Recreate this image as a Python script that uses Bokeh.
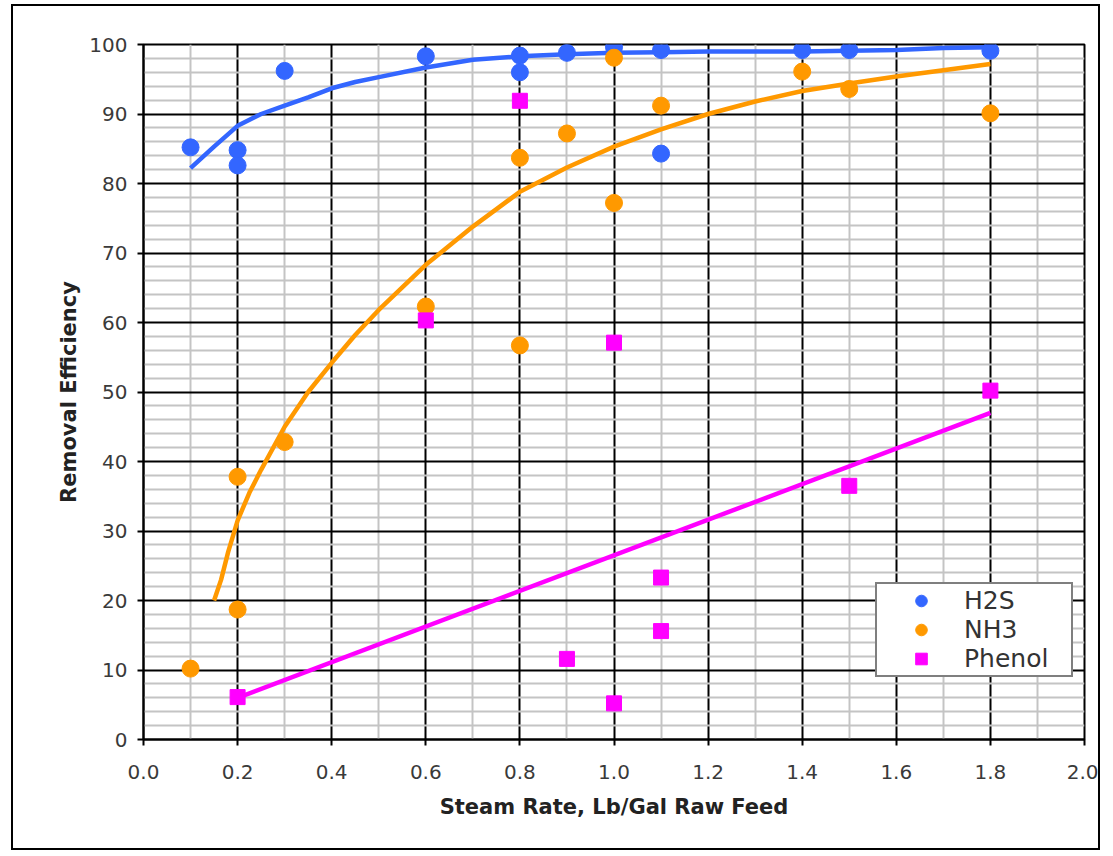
from bokeh.plotting import figure
from bokeh.models import FixedTicker, Legend, LegendItem, Range1d
from bokeh.embed import file_html
from bokeh.resources import INLINE

# ---------------- data ----------------
h2s_x = [0.1, 0.2, 0.2, 0.3, 0.6, 0.8, 0.8, 0.9, 1.0, 1.1, 1.1, 1.4, 1.5, 1.8]
h2s_y = [85.2, 84.8, 82.6, 96.2, 98.3, 98.4, 96.0, 98.8, 99.6, 99.2, 84.3, 99.2, 99.2, 99.1]

nh3_x = [0.1, 0.2, 0.2, 0.3, 0.6, 0.8, 0.8, 0.9, 1.0, 1.0, 1.1, 1.4, 1.5, 1.8]
nh3_y = [10.2, 37.8, 18.7, 42.8, 62.3, 83.7, 56.7, 87.2, 98.1, 77.2, 91.2, 96.1, 93.6, 90.1]

phenol_x = [0.2, 0.6, 0.8, 0.9, 1.0, 1.0, 1.1, 1.1, 1.5, 1.8]
phenol_y = [6.1, 60.3, 91.9, 11.6, 57.1, 5.2, 23.3, 15.6, 36.5, 50.2]

h2s_fit_x = [0.1, 0.15, 0.2, 0.25, 0.3, 0.35, 0.4, 0.45, 0.5, 0.6, 0.7, 0.8, 0.9,
             1.0, 1.1, 1.2, 1.3, 1.4, 1.5, 1.6, 1.7, 1.8]
h2s_fit_y = [82.2, 85.3, 88.3, 90.0, 91.2, 92.4, 93.7, 94.6, 95.3, 96.7, 97.8, 98.3, 98.6,
             98.8, 98.9, 99.0, 99.0, 99.0, 99.1, 99.2, 99.5, 99.6]

nh3_fit_x = [0.15, 0.165, 0.18, 0.2, 0.225, 0.25, 0.3, 0.35, 0.4, 0.45, 0.5, 0.6, 0.7,
             0.8, 0.9, 1.0, 1.1, 1.2, 1.3, 1.4, 1.5, 1.6, 1.7, 1.8]
nh3_fit_y = [20.0, 23.0, 27.0, 31.5, 35.5, 38.8, 45.0, 50.0, 54.2, 58.2, 61.8, 68.3, 73.8,
             78.8, 82.3, 85.3, 87.8, 90.0, 91.8, 93.3, 94.4, 95.4, 96.3, 97.2]

phenol_fit_x = [0.2, 1.8]
phenol_fit_y = [6.0, 47.0]

x_ticks = [0.0, 0.2, 0.4, 0.6, 0.8, 1.0, 1.2, 1.4, 1.6, 1.8, 2.0]
x_tick_labels = ["0.0", "0.2", "0.4", "0.6", "0.8", "1.0", "1.2", "1.4", "1.6", "1.8", "2.0"]
x_minor = [0.1, 0.3, 0.5, 0.7, 0.9, 1.1, 1.3, 1.5, 1.7, 1.9]
y_ticks = [0, 10, 20, 30, 40, 50, 60, 70, 80, 90, 100]
y_minor = [v for v in range(0, 101, 2) if v % 10 != 0]

BLUE = "#3366FF"
ORANGE = "#FF9900"
MAGENTA = "#FF00FF"

p = figure(width=1089, height=846, x_range=Range1d(0, 2), y_range=Range1d(0, 100),
           output_backend="svg", toolbar_location=None,
           min_border_left=130, min_border_right=18, min_border_top=38, min_border_bottom=113)
p.styles = {"border": "2px solid black", "margin-left": "11px", "margin-top": "4px"}
p.background_fill_color = "white"
p.border_fill_color = "white"
p.outline_line_color = "black"
p.outline_line_width = 2

p.xaxis.ticker = FixedTicker(ticks=x_ticks, minor_ticks=x_minor)
p.xaxis.major_label_overrides = dict(zip(x_ticks, x_tick_labels))
p.yaxis.ticker = FixedTicker(ticks=y_ticks, minor_ticks=y_minor)

for ax in (p.xaxis, p.yaxis):
    ax.axis_line_color = "black"
    ax.axis_line_width = 2
    ax.major_tick_line_color = "black"
    ax.major_tick_line_width = 2
    ax.major_tick_in = 0
    ax.major_tick_out = 6
    ax.minor_tick_in = 0
    ax.minor_tick_out = 0
    ax.major_label_text_font = "DejaVu Sans"
    ax.major_label_text_font_size = "20px"
    ax.major_label_text_color = "#3a3a3a"
    ax.axis_label_text_font = "DejaVu Sans"
    ax.axis_label_text_font_size = "21px"
    ax.axis_label_text_font_style = "bold"
    ax.axis_label_text_color = "#222222"

p.xaxis.axis_label = "Steam Rate, Lb/Gal Raw Feed"
p.yaxis.axis_label = "Removal Efficiency"
p.xaxis.major_label_standoff = 19
p.yaxis.major_label_standoff = 10
p.xaxis.axis_label_standoff = 13
p.yaxis.axis_label_standoff = 5

for g in (p.xgrid, p.ygrid):
    g.grid_line_color = "black"
    g.grid_line_width = 2
    g.minor_grid_line_color = "#C4C4C4"
    g.minor_grid_line_width = 2
p.xgrid.ticker = p.xaxis.ticker
p.ygrid.ticker = p.yaxis.ticker

# trend lines
p.line(h2s_fit_x, h2s_fit_y, line_color=BLUE, line_width=4.5)
p.line(nh3_fit_x, nh3_fit_y, line_color=ORANGE, line_width=4.5)
p.line(phenol_fit_x, phenol_fit_y, line_color=MAGENTA, line_width=4.5)

# data points
r_h2s = p.scatter(h2s_x, h2s_y, marker="circle", size=17, fill_color=BLUE, line_color=BLUE)
r_nh3 = p.scatter(nh3_x, nh3_y, marker="circle", size=17, fill_color=ORANGE, line_color=ORANGE)
r_ph = p.scatter(phenol_x, phenol_y, marker="square", size=15, fill_color=MAGENTA, line_color=MAGENTA)

legend = Legend(items=[LegendItem(label="H2S", renderers=[r_h2s]),
                       LegendItem(label="NH3", renderers=[r_nh3]),
                       LegendItem(label="Phenol", renderers=[r_ph])],
                location=(732, 62),
                label_text_font="DejaVu Sans", label_text_font_size="25px",
                label_text_color="#333333",
                border_line_color="black", border_line_width=2,
                background_fill_color="white", background_fill_alpha=1.0,
                padding=2, spacing=0, margin=0,
                glyph_width=84, glyph_height=29, label_height=25, label_width=105,
                label_standoff=1)
p.add_layout(legend)

open("out.html", "w").write(file_html(p, INLINE))
